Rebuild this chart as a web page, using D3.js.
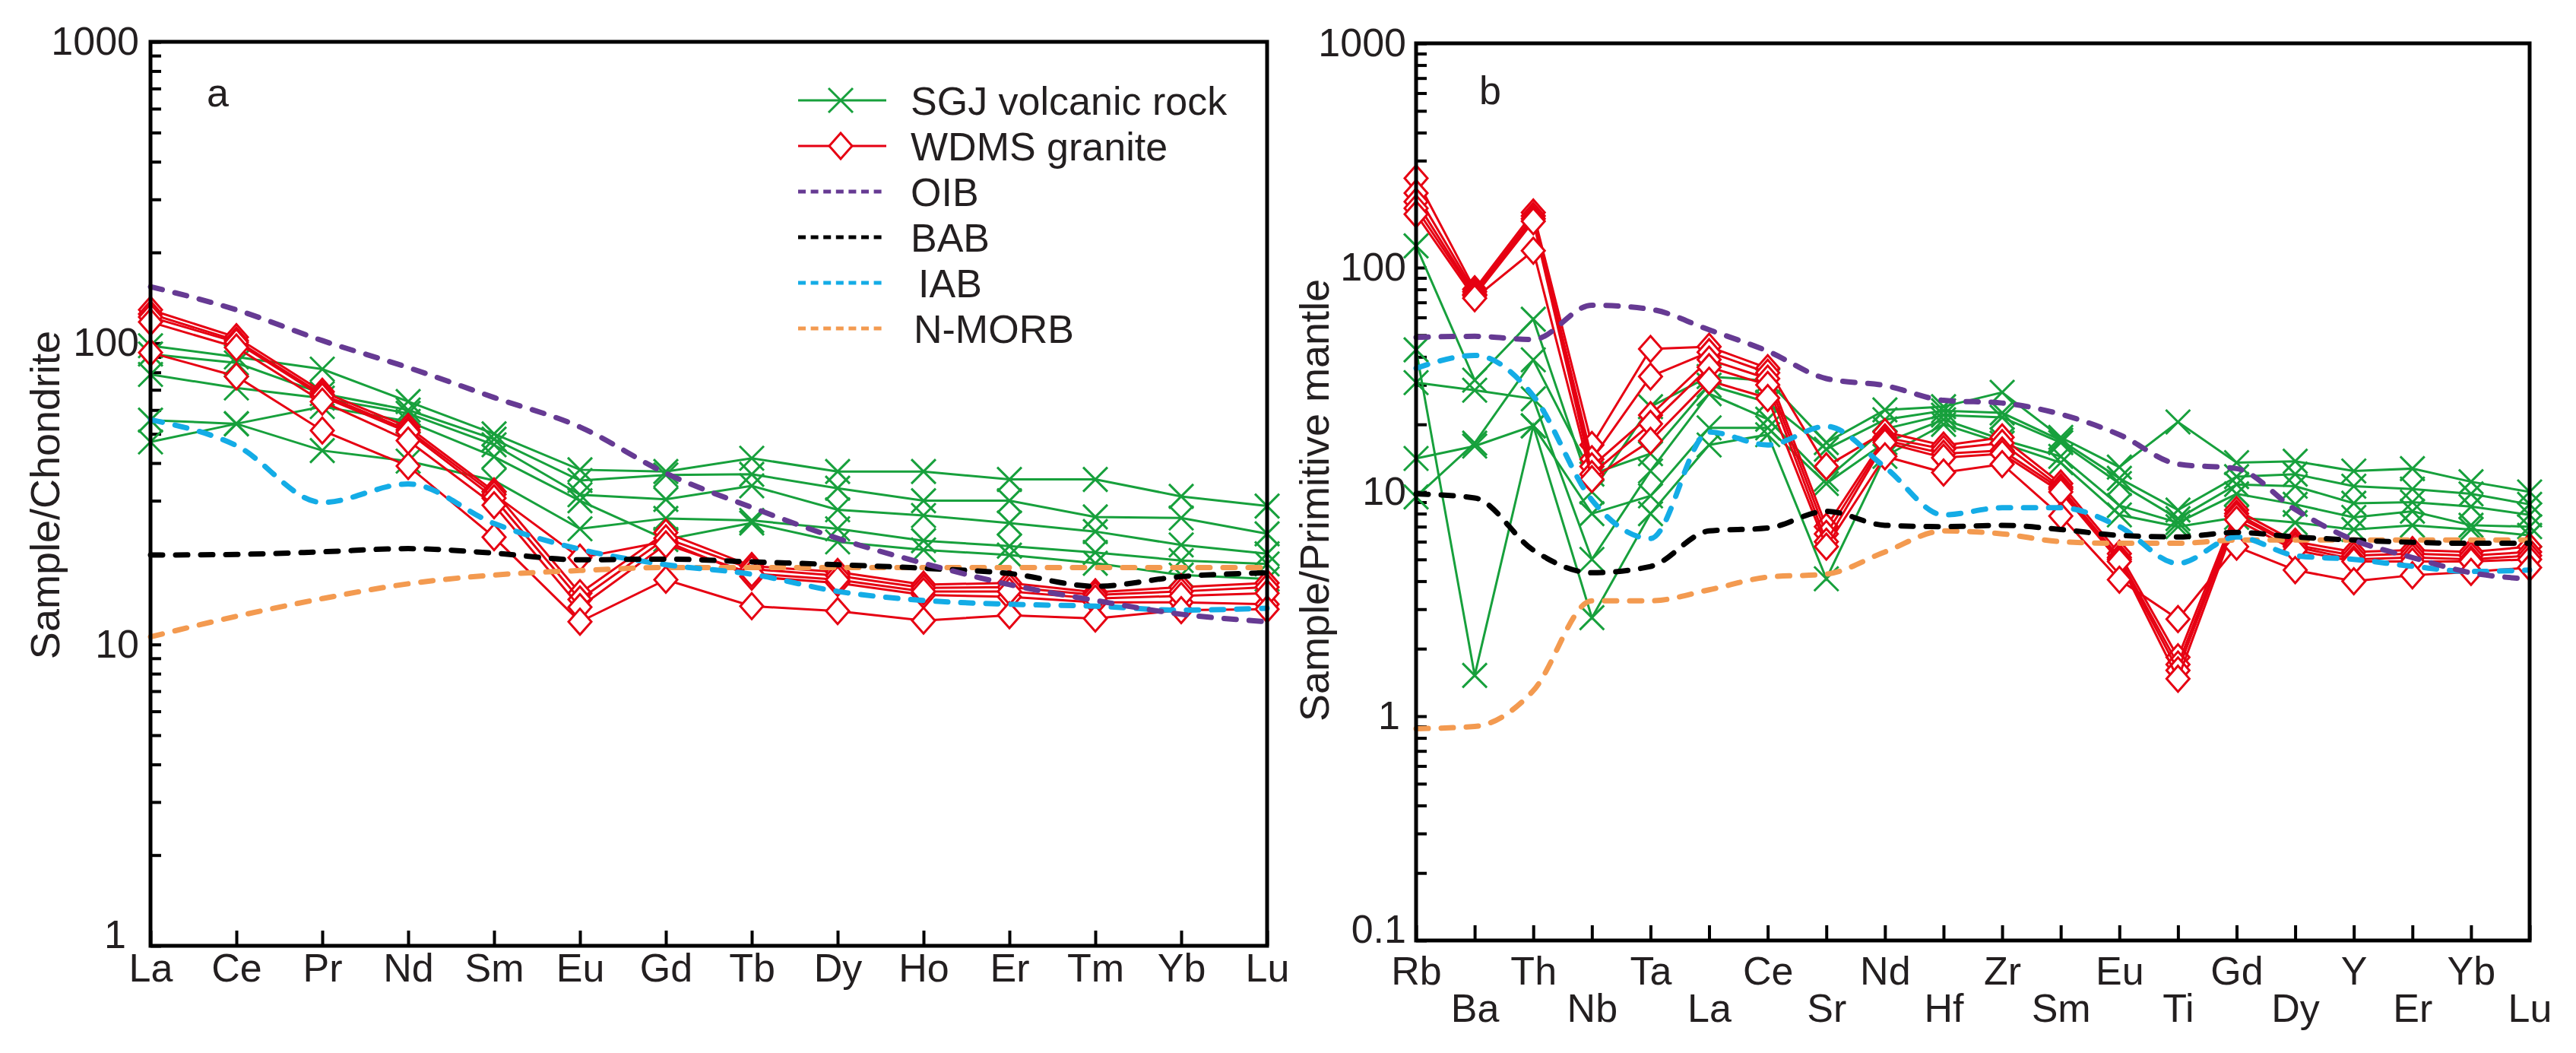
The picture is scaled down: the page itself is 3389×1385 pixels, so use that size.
<!DOCTYPE html>
<html>
<head>
    <meta charset="utf-8">
    <title>REE and trace element patterns</title>
    <script src="https://d3js.org/d3.v7.min.js"></script>
    <style>
        body { margin: 0; background: #fff; }
        text { font-family: "Liberation Sans", Arial, sans-serif; fill: #231f20; }
    </style>
</head>
<body>
<div id="chart"></div>
<script>
    // x axis elements
    var reeElements = ["La", "Ce", "Pr", "Nd", "Sm", "Eu", "Gd", "Tb", "Dy", "Ho", "Er", "Tm", "Yb", "Lu"];
    var spiderElements = ["Rb", "Ba", "Th", "Nb", "Ta", "La", "Ce", "Sr", "Nd", "Hf", "Zr", "Sm", "Eu", "Ti", "Gd", "Dy", "Y", "Er", "Yb", "Lu"];

    // (a) chondrite normalised REE
    var reeSGJ = [
        [98, 90, 82, 64, 50, 38, 37.5, 41.5, 37.5, 37.5, 35.3, 35.3, 31, 28.8],
        [92, 86, 68, 60, 48, 35, 36.5, 36.7, 33, 30, 30, 26.5, 26.3, 23.3],
        [78.7, 71, 65.7, 58.5, 46, 31.4, 30.3, 33.6, 28, 26.8, 25.3, 23.7, 21.4, 20],
        [47, 54, 61.6, 55, 42, 30, 22.3, 25.3, 21.9, 20.6, 19.8, 18.6, 17, 16.5],
        [55.5, 54, 44, 40.6, 35, 24.2, 26.2, 25.8, 24.2, 22.1, 21.2, 20.2, 19, 18.5]
    ];
    var reeWDMS = [
        [129, 104.6, 69, 52.7, 32.2, 14.8, 23.5, 18.2, 17.4, 15.8, 16.0, 14.9, 15.5, 16.0],
        [125, 102, 67.5, 51.5, 31.5, 19.4, 22, 16.8, 16.0, 14.6, 14.4, 13.8, 13.8, 13.6],
        [122, 100.7, 66.5, 50.7, 30.6, 14.1, 22.5, 17.8, 16.9, 15.4, 15.5, 14.6, 15.0, 15.5],
        [117.5, 96.8, 64, 47.5, 29, 13.3, 21.5, 17.2, 16.4, 15.0, 15.0, 14.2, 14.5, 14.8],
        [93, 77.6, 51.3, 39.1, 22.7, 11.9, 16.4, 13.4, 12.9, 12.0, 12.5, 12.2, 13.0, 13.1]
    ];
    var reeOIB = [154, 129, 102, 83, 66, 52.7, 37, 28.5, 22.5, 18.6, 15.8, 14.0, 12.6, 11.9];
    var reeBAB = [19.8, 19.9, 20.3, 20.8, 20.1, 19.1, 19.2, 18.8, 18.4, 17.9, 17.2, 15.6, 16.8, 17.3];
    var reeIAB = [55.7, 45.7, 29.6, 34.1, 25.2, 20.7, 18.4, 17.1, 15.0, 14.0, 13.6, 13.4, 13.0, 13.2];
    var reeNMORB = [10.6, 12.4, 14.2, 15.9, 17.0, 17.6, 18.0, 18.0, 18.0, 18.0, 18.0, 18.0, 18.0, 18.0];

    // (b) primitive mantle normalised trace elements
    var spiderSGJ = [
        [125, 31.5, 58.9, 10, 24, 32.7, 31.3, 16.6, 23.2, 24, 27.8, 17.5, 12.9, 20.5, 13.5, 13.7, 12.4, 12.7, 11.1, 10.0],
        [9.5, 16.5, 38.8, 12, 14.8, 29.9, 25.1, 15.5, 21, 23, 22.5, 17, 11.5, 8.3, 11.7, 12.0, 10.6, 10.3, 9.8, 8.8],
        [30.7, 28.4, 26, 5.0, 12.4, 27.4, 21.1, 11.4, 19.1, 22, 21.5, 16.6, 10.9, 7.6, 10.8, 10.6, 8.9, 9.0, 8.6, 7.9],
        [14.1, 16.0, 19.7, 8.0, 9.6, 19.3, 19.3, 10.9, 16.6, 21, 17.1, 14.4, 8.7, 7.3, 9.8, 8.8, 7.7, 8.2, 7.1, 7.0],
        [43, 1.52, 19.7, 2.75, 8.0, 16.2, 18, 4.1, 14.4, 20, 16.5, 13.5, 7.9, 7.0, 7.7, 7.3, 6.8, 7.1, 6.8, 6.4]
    ];
    var spiderWDMS = [
        [250, 80, 176, 16.2, 43.4, 44.4, 35.6, 13, 18.5, 16.1, 17.5, 10.9, 5.3, 1.83, 8.3, 6.0, 5.4, 5.5, 5.4, 5.7],
        [215, 78, 170, 14, 32.7, 42, 34, 7.0, 17.5, 15.5, 16.5, 10.5, 5.1, 1.7, 8.0, 5.8, 5.2, 5.3, 5.2, 5.4],
        [197, 76, 165, 13, 22, 38.9, 32, 6.5, 17, 14.8, 15.3, 10.3, 5.0, 1.6, 7.8, 5.7, 5.0, 5.1, 5.0, 5.2],
        [184, 75, 161, 12, 20.1, 36, 30, 6.0, 16.6, 14.2, 14.8, 10.0, 4.9, 1.47, 7.5, 5.5, 4.9, 4.9, 4.9, 5.0],
        [173, 73, 119, 11.4, 16.9, 31.3, 26.2, 5.7, 14.4, 12.2, 13.3, 7.8, 4.06, 2.71, 5.7, 4.48, 4.0, 4.25, 4.4, 4.6]
    ];
    var spiderOIB = [48.9, 49.4, 47.8, 68, 65.2, 52.8, 42.4, 32, 29.8, 25.6, 24.9, 22.2, 18.0, 13.3, 12.7, 8.35, 6.1, 5.1, 4.36, 4.09];
    var spiderBAB = [9.8, 9.4, 5.5, 4.36, 4.65, 6.7, 6.9, 8.2, 7.1, 7.0, 7.1, 6.8, 6.4, 6.3, 6.6, 6.3, 6.1, 5.96, 5.9, 5.9];
    var spiderIAB = [35.6, 40.6, 26.8, 9.2, 6.2, 18.5, 16.2, 19.6, 12.9, 7.9, 8.5, 8.5, 7.0, 4.8, 6.3, 5.2, 5.0, 4.66, 4.42, 4.48];
    var spiderNMORB = [0.88, 0.90, 1.30, 3.27, 3.27, 3.66, 4.17, 4.3, 5.4, 6.7, 6.5, 6.0, 5.9, 5.9, 6.1, 6.1, 6.1, 6.1, 6.1, 6.1];

    var green = "#17a03c", red = "#e60012";
    var refColors = { OIB: "#663a93", BAB: "#000000", IAB: "#14ace6", NMORB: "#f39a50" };

    var svg = d3.select("#chart")
                .append("svg")
                .attr("width", 3389)
                .attr("height", 1385);

    var crossPath = "M-16,-16L16,16M-16,16L16,-16";
    var diamondPath = "M0,-17L15,0L0,17L-15,0Z";

    function drawPanel(p) {
        var x = d3.scalePoint().domain(p.elements).range([p.left, p.right]);
        var y = d3.scaleLog().domain(p.yDomain).range([p.bottom, p.top]);
        var g = svg.append("g");

        // log ticks 1..9 per decade, labels only on powers of ten
        var ticks = [];
        var e0 = Math.round(Math.log10(p.yDomain[0])), e1 = Math.round(Math.log10(p.yDomain[1]));
        for (var e = e0; e < e1; e++) {
            for (var k = 1; k < 10; k++) ticks.push(k * Math.pow(10, e));
        }
        ticks.push(p.yDomain[1]);

        var yAxis = g.append("g")
            .attr("transform", "translate(" + p.left + ",0)")
            .call(d3.axisLeft(y).tickValues(ticks).tickSize(-14).tickPadding(p.yPad)
                .tickFormat(function(d) {
                    var l = Math.log10(d);
                    if (Math.abs(l - Math.round(l)) > 1e-6) return "";
                    return d < 1 ? d.toFixed(1) : String(Math.round(d));
                }));
        yAxis.select(".domain").remove();
        yAxis.selectAll("line").attr("stroke", "#000").attr("stroke-width", 4);
        yAxis.selectAll("text").attr("font-size", 52).attr("fill", "#231f20")
            .attr("dy", function(d) { return d === p.yDomain[0] ? "0.05em" : "0.32em"; })
            .attr("dx", function(d) { return d === 1 ? p.oneShift : 0; });

        var xAxis = g.append("g")
            .attr("transform", "translate(0," + p.bottom + ")")
            .call(d3.axisBottom(x).tickSize(-20).tickPadding(p.xPad));
        xAxis.select(".domain").remove();
        xAxis.selectAll("line").attr("stroke", "#000").attr("stroke-width", 4);
        xAxis.selectAll("text").attr("font-size", 52).attr("fill", "#231f20")
            .attr("dy", function(d, i) { return (p.twoRows && i % 2) ? "1.65em" : "0.71em"; });

        var line = d3.line()
            .x(function(d, i) { return x(p.elements[i]); })
            .y(function(d) { return y(d); });

        // SGJ volcanic rock
        p.sgj.forEach(function(s) {
            g.append("path").attr("d", line(s)).attr("fill", "none")
             .attr("stroke", green).attr("stroke-width", 3);
            g.selectAll(null).data(s).enter().append("path")
             .attr("d", crossPath)
             .attr("transform", function(d, i) { return "translate(" + x(p.elements[i]) + "," + y(d) + ")"; })
             .attr("fill", "none").attr("stroke", green).attr("stroke-width", 3);
        });

        // WDMS granite
        p.wdms.forEach(function(s) {
            g.append("path").attr("d", line(s)).attr("fill", "none")
             .attr("stroke", red).attr("stroke-width", 3);
            g.selectAll(null).data(s).enter().append("path")
             .attr("d", diamondPath)
             .attr("transform", function(d, i) { return "translate(" + x(p.elements[i]) + "," + y(d) + ")"; })
             .attr("fill", "#fff").attr("stroke", red).attr("stroke-width", 3);
        });

        // reference compositions, smooth dashed curves
        var smooth = d3.line().curve(d3.curveMonotoneX)
            .x(function(d, i) { return x(p.elements[i]); })
            .y(function(d) { return y(d); });
        p.refs.forEach(function(r) {
            g.append("path").attr("d", smooth(r.values)).attr("fill", "none")
             .attr("stroke", r.color).attr("stroke-width", 7)
             .attr("stroke-linecap", "round").attr("stroke-dasharray", "16,17");
        });

        // frame
        g.append("rect")
         .attr("x", p.left).attr("y", p.top)
         .attr("width", p.right - p.left).attr("height", p.bottom - p.top)
         .attr("fill", "none").attr("stroke", "#000").attr("stroke-width", 5);

        g.append("text").attr("x", p.letterX).attr("y", p.letterY)
         .attr("font-size", 52).text(p.letter);

        g.append("text")
         .attr("transform", "translate(" + p.titleX + "," + p.titleY + ") rotate(-90)")
         .attr("text-anchor", "middle").attr("font-size", 54)
         .text(p.title);
    }

    drawPanel({
        elements: reeElements, sgj: reeSGJ, wdms: reeWDMS,
        refs: [
            { values: reeNMORB, color: refColors.NMORB },
            { values: reeIAB, color: refColors.IAB },
            { values: reeBAB, color: refColors.BAB },
            { values: reeOIB, color: refColors.OIB }
        ],
        yDomain: [1, 1000], left: 198, right: 1667, top: 55, bottom: 1244,
        yPad: 15, xPad: 10, twoRows: false, oneShift: -17,
        letter: "a", letterX: 272, letterY: 140,
        title: "Sample/Chondrite", titleX: 78, titleY: 651
    });

    drawPanel({
        elements: spiderElements, sgj: spiderSGJ, wdms: spiderWDMS,
        refs: [
            { values: spiderNMORB, color: refColors.NMORB },
            { values: spiderIAB, color: refColors.IAB },
            { values: spiderBAB, color: refColors.BAB },
            { values: spiderOIB, color: refColors.OIB }
        ],
        yDomain: [0.1, 1000], left: 1863, right: 3328, top: 57, bottom: 1237,
        yPad: 13, xPad: 21, twoRows: true, oneShift: -8,
        letter: "b", letterX: 1946, letterY: 137,
        title: "Sample/Primitive mantle", titleX: 1748, titleY: 658
    });

    // legend in panel a
    var legendItems = [
        { label: "SGJ volcanic rock", color: green, marker: crossPath, y: 132 },
        { label: "WDMS granite", color: red, marker: diamondPath, y: 192 },
        { label: "OIB", color: refColors.OIB, y: 252 },
        { label: "BAB", color: refColors.BAB, y: 312 },
        { label: "IAB", color: refColors.IAB, y: 372, dx: 10 },
        { label: "N-MORB", color: refColors.NMORB, y: 432, dx: 4 }
    ];
    var legend = svg.append("g");
    legendItems.forEach(function(it) {
        var row = legend.append("g").attr("transform", "translate(0," + it.y + ")");
        if (it.marker) {
            row.append("line").attr("x1", 1050).attr("x2", 1166)
               .attr("stroke", it.color).attr("stroke-width", 3);
            row.append("path").attr("d", it.marker)
               .attr("transform", "translate(1106,0)")
               .attr("fill", it.marker === diamondPath ? "#fff" : "none")
               .attr("stroke", it.color).attr("stroke-width", 3);
        } else {
            row.append("line").attr("x1", 1050).attr("x2", 1166)
               .attr("stroke", it.color).attr("stroke-width", 5)
               .attr("stroke-dasharray", "10,6.6");
        }
        row.append("text").attr("x", 1198 + (it.dx || 0)).attr("y", 0).attr("dy", "0.36em")
           .attr("font-size", 52).text(it.label);
    });
</script>
</body>
</html>
